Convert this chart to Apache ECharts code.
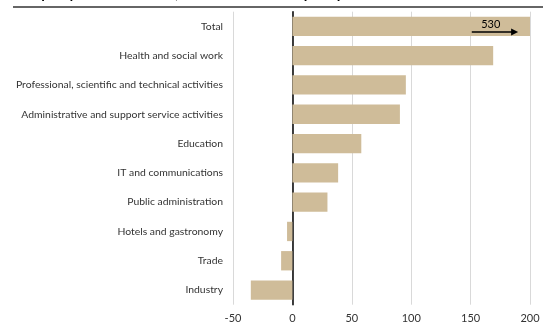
<!DOCTYPE html>
<html><head><meta charset="utf-8">
<script src="https://cdn.jsdelivr.net/npm/echarts@6/dist/echarts.min.js"></script>
<style>html,body{margin:0;padding:0;background:#fff}#c{width:558px;height:324px}</style>
</head><body><div id="c"></div>
<script>
const categories = ['Industry','Trade','Hotels and gastronomy','Public administration','IT and communications','Education','Administrative and support service activities','Professional, scientific and technical activities','Health and social work','Total'];
const values = [-35, -9.5, -4.5, 29.5, 38.5, 58, 90.5, 95.5, 169, 530];
const xTicks = [-50, 0, 50, 100, 150, 200];
const totalLabel = '530';
const titleText = 'Employment 2024, thousands of people';

const FONT = 'Lato';
const chart = echarts.init(document.getElementById('c'), null, {renderer: 'canvas'});
const baseGraphic = [
  {type: 'text', left: 13, top: -18, style: {text: titleText, font: '20px ' + FONT, fill: '#000'}},
  {type: 'line', shape: {x1: 13, y1: 7, x2: 543, y2: 7}, style: {stroke: '#333', lineWidth: 1.5}}
];
const option = {
  animation: false,
  grid: {left: 233, right: 28, top: 11.7, bottom: 19.3, containLabel: false},
  xAxis: {
    type: 'value', min: xTicks[0], max: xTicks[xTicks.length - 1], interval: 50,
    axisLine: {show: false}, axisTick: {show: false},
    splitLine: {show: true, lineStyle: {color: '#d9d9d9', width: 1}},
    axisLabel: {color: '#333', fontFamily: FONT, fontSize: 11, margin: 8}
  },
  yAxis: {
    type: 'category', data: categories,
    axisLine: {show: true, onZero: true, lineStyle: {color: '#000', width: 1.5}},
    axisTick: {show: false},
    axisLabel: {color: '#333', fontFamily: FONT, fontSize: 10.4, margin: 10}
  },
  series: [{
    type: 'bar', data: values, barCategoryGap: '34%',
    itemStyle: {color: '#cfbc99'}, clip: true
  }],
  graphic: baseGraphic
};
chart.setOption(option);

let extra = [];
try {
  const idx = categories.length - 1;
  const cat = categories[idx];
  const a = chart.convertToPixel({xAxisIndex: 0}, 151);
  const b = chart.convertToPixel({xAxisIndex: 0}, 190);
  const l = chart.convertToPixel({xAxisIndex: 0}, 167);
  const cy = chart.convertToPixel({yAxisIndex: 0}, cat);
  const ay = cy + 5.6;
  extra = [
    {type: 'line', shape: {x1: a, y1: ay, x2: b - 4, y2: ay}, style: {stroke: '#000', lineWidth: 1.5}, z: 100},
    {type: 'polygon', shape: {points: [[b, ay], [b - 7, ay - 3.5], [b - 7, ay + 3.5]]}, style: {fill: '#000'}, z: 100},
    {type: 'text', x: l, y: cy - 1.5, style: {text: totalLabel, font: '11px ' + FONT, fill: '#000', align: 'center', verticalAlign: 'middle'}, z: 100}
  ];
} catch (e) {
  extra = [{type: 'text', x: 300, y: 150, style: {text: String(e), fill: 'red', font: '12px sans-serif'}, z: 200}];
}
chart.setOption({graphic: baseGraphic.concat(extra)});
</script></body></html>
